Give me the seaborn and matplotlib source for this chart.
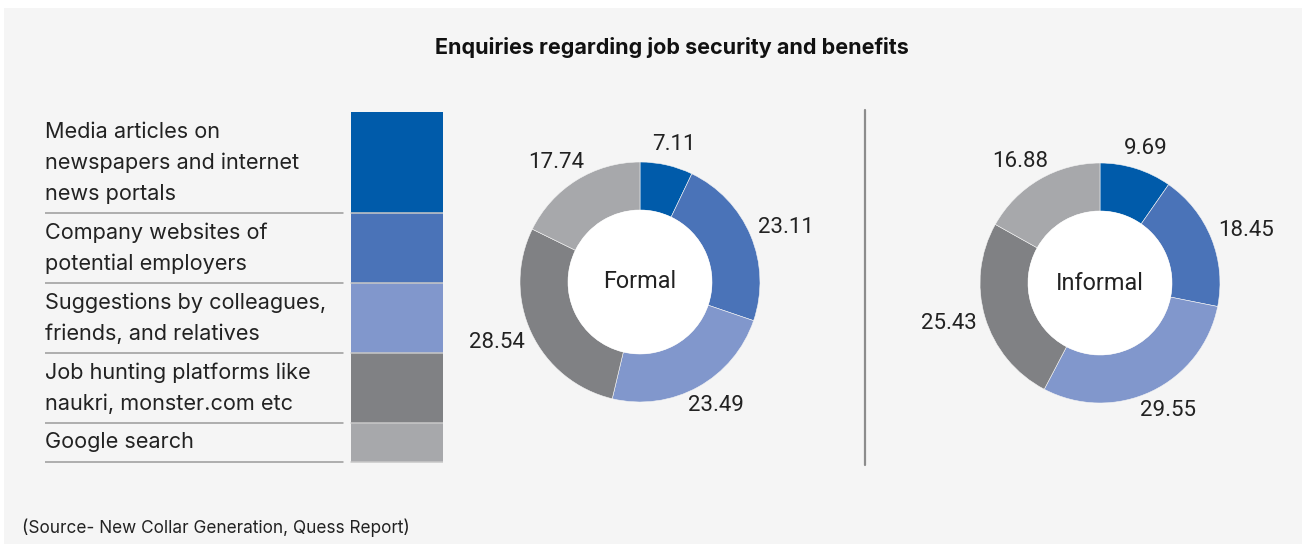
import numpy as np
import matplotlib.pyplot as plt
import seaborn as sns
from matplotlib.patches import Rectangle, Circle

# 数据
sources = ['Media articles on\nnewspapers and internet\nnews portals',
           'Company websites of\npotential employers',
           'Suggestions by colleagues,\nfriends, and relatives',
           'Job hunting platforms like\nnaukri, monster.com etc',
           'Google search']
formal = [7.11, 23.11, 23.49, 28.54, 17.74]
informal = [9.69, 18.45, 29.55, 25.43, 16.88]
groups = ['Formal', 'Informal']
colors = ['#005baa', '#4a73b8', '#8197cc', '#808184', '#a7a8ab']

title = 'Enquiries regarding job security and benefits'
source_note = '(Source- New Collar Generation, Quess Report)'

sns.set_theme(style='white')
plt.rcParams['font.family'] = ['Inter', 'DejaVu Sans']
palette = sns.color_palette(colors)

W, H = 1306, 544
fig = plt.figure(figsize=(W / 100, H / 100), dpi=100, facecolor='white')

# 灰色背景
fig.patches.append(Rectangle((4 / W, 0), 1298 / W, 536 / H, transform=fig.transFigure,
                             facecolor='#f5f5f5', edgecolor='none', zorder=-10))

fig.text(672 / W, 1 - 47 / H, title, ha='center', va='center',
         fontsize=15.5, fontweight='bold', color='#111111')
fig.text(22 / W, 1 - 528 / H, source_note, ha='left', va='center',
         fontsize=12.4, color='#222222')

# 图例表格
leg_x0, leg_x1, leg_y0, leg_y1 = 45, 443, 112, 465
ax_leg = fig.add_axes([leg_x0 / W, 1 - leg_y1 / H, (leg_x1 - leg_x0) / W, (leg_y1 - leg_y0) / H])
ax_leg.set_xlim(0, leg_x1 - leg_x0)
ax_leg.set_ylim(leg_y1 - leg_y0, 0)
ax_leg.axis('off')

line_h, pad = 31, 8
top = 0
for i, label in enumerate(sources):
    lines = label.split('\n')
    h = len(lines) * line_h + pad
    mid = top + h / 2
    for j, ln in enumerate(lines):
        ax_leg.text(0, mid + (j - (len(lines) - 1) / 2) * line_h, ln, ha='left', va='center',
                    fontsize=15.6, color='#222222')
    ax_leg.bar(306, h, bottom=top, width=92, align='edge', color=palette[i], linewidth=0)
    top += h
    ax_leg.plot([0, 298], [top, top], color='#9a9a9a', lw=1.1)
    ax_leg.plot([306, 398], [top, top], color='#c8c8c8', lw=1.1)


def donut(cx, cy, values, name):
    r_px = 120
    span = 1.6
    ax = fig.add_axes([(cx - r_px * span) / W, 1 - (cy + r_px * span) / H,
                       2 * r_px * span / W, 2 * r_px * span / H])
    ax.pie(values, colors=palette, startangle=90, counterclock=False, radius=1,
           wedgeprops=dict(width=0.4, edgecolor='#f5f5f5', linewidth=0.4))
    ax.add_patch(Circle((0, 0), 0.6, facecolor='white', edgecolor='none'))
    ax.text(0, 0, name, ha='center', va='center', fontsize=16.8, color='#222222',
            family=['Roboto', 'DejaVu Sans'])
    cum = np.cumsum([0] + list(values))
    total = cum[-1]
    for k, v in enumerate(values):
        ang = np.deg2rad(90 - 360 * (cum[k] + v / 2) / total)
        ux, uy = np.cos(ang), np.sin(ang)
        lab = f'{v:.2f}'
        w = len(lab) * 0.09
        hgt = 0.17
        x = 1.09 * ux + ux * w / 2
        y = 1.09 * uy + uy * hgt / 2
        ax.text(x, y, lab, ha='center', va='center', fontsize=16, color='#222222',
                family=['Roboto', 'DejaVu Sans'])
    ax.set_xlim(-span, span)
    ax.set_ylim(-span, span)
    ax.set_aspect('equal')
    ax.axis('off')


donut(640, 282, formal, groups[0])
donut(1100, 283, informal, groups[1])

# 分隔线
fig.add_artist(plt.Line2D([865 / W, 865 / W], [1 - 110 / H, 1 - 465 / H],
                          transform=fig.transFigure, color='#8c8c8c', lw=1.6))

fig.savefig('out.png', dpi=100, facecolor=fig.get_facecolor())
